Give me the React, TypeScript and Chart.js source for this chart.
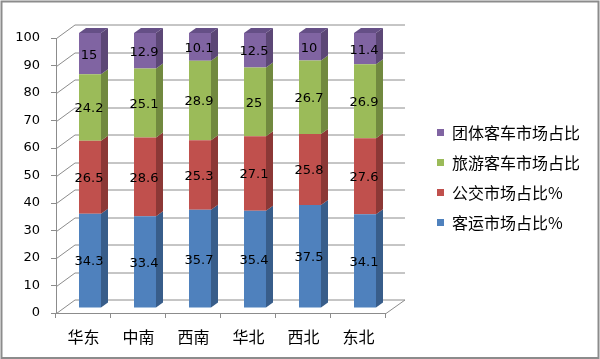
import React, { useEffect, useRef } from 'react';
import { Chart, registerables } from 'chart.js';

Chart.register(...registerables);

// ---- data ----
const categories = ['华东', '中南', '西南', '华北', '西北', '东北'];
const seriesNames = ['客运市场占比%', '公交市场占比%', '旅游客车市场占比', '团体客车市场占比'];
const keyunValues = [34.3, 33.4, 35.7, 35.4, 37.5, 34.1];
const gongjiaoValues = [26.5, 28.6, 25.3, 27.1, 25.8, 27.6];
const lvyouValues = [24.2, 25.1, 28.9, 25, 26.7, 26.9];
const tuantiValues = [15, 12.9, 10.1, 12.5, 10, 11.4];
const yMin = 0;
const yMax = 100;
const yStep = 10;

// ---- styles ----
const frontColors = ['#4F81BD', '#C0504D', '#9BBB59', '#8064A2'];
const sideColors = ['#385D8A', '#8C3836', '#71893F', '#5C4776'];
const topColor = '#654F86';
const lineColor = '#8C8C8C';

const WALL_DX = 19;
const WALL_DY = -13.5;
const BAR_OX = 6.5;
const BAR_OY = -5;
const BAR_DX = 7;
const BAR_DY = -5;

const threeD = {
  id: 'threeD',
  beforeDraw(chart: any) {
    const { ctx, chartArea: ca, scales } = chart;
    const y = scales.y;
    ctx.save();
    ctx.fillStyle = '#ffffff';
    ctx.fillRect(0, 0, chart.width, chart.height);
    ctx.strokeStyle = lineColor;
    ctx.lineWidth = 2;
    ctx.strokeRect(1.5, 1.5, chart.width - 3, chart.height - 2.5);
    ctx.lineWidth = 1;
    ctx.beginPath();
    y.ticks.forEach((t: any) => {
      const py = Math.round(y.getPixelForValue(t.value)) + 0.5;
      ctx.moveTo(ca.left + 0.5, py);
      ctx.lineTo(ca.left + WALL_DX, py + WALL_DY);
      ctx.lineTo(ca.right + WALL_DX, py + WALL_DY);
    });
    const by = Math.round(y.getPixelForValue(yMin)) + 0.5;
    ctx.moveTo(ca.right, by);
    ctx.lineTo(ca.right + WALL_DX, by + WALL_DY);
    ctx.stroke();
    ctx.restore();
  },
  beforeDatasetsDraw(chart: any) {
    chart.ctx.save();
    chart.ctx.translate(BAR_OX, BAR_OY);
  },
  afterDatasetsDraw(chart: any) {
    const ctx = chart.ctx;
    const n = chart.data.datasets.length;
    for (let i = 0; i < n; i++) {
      const meta = chart.getDatasetMeta(i);
      meta.data.forEach((el: any) => {
        const p = el.getProps(['x', 'y', 'base', 'width'], true);
        const left = p.x - p.width / 2;
        const right = p.x + p.width / 2;
        const top = Math.min(p.y, p.base);
        const bottom = Math.max(p.y, p.base);
        ctx.fillStyle = sideColors[i];
        ctx.beginPath();
        ctx.moveTo(right, top);
        ctx.lineTo(right + BAR_DX, top + BAR_DY);
        ctx.lineTo(right + BAR_DX, bottom + BAR_DY);
        ctx.lineTo(right, bottom);
        ctx.closePath();
        ctx.fill();
        if (i === n - 1) {
          ctx.fillStyle = topColor;
          ctx.beginPath();
          ctx.moveTo(left, top);
          ctx.lineTo(left + BAR_DX, top + BAR_DY);
          ctx.lineTo(right + BAR_DX, top + BAR_DY);
          ctx.lineTo(right, top);
          ctx.closePath();
          ctx.fill();
        }
      });
    }
    // data labels
    ctx.fillStyle = '#000000';
    ctx.font = '13px "DejaVu Sans"';
    ctx.textAlign = 'center';
    ctx.textBaseline = 'middle';
    for (let i = 0; i < n; i++) {
      const meta = chart.getDatasetMeta(i);
      const values = chart.data.datasets[i].data;
      meta.data.forEach((el: any, j: number) => {
        const p = el.getProps(['x', 'y', 'base'], true);
        ctx.fillText(String(values[j]), p.x - 1, (p.y + p.base) / 2 + 1.5);
      });
    }
    ctx.restore();
  },
};

export default function App() {
  const ref = useRef<HTMLCanvasElement | null>(null);
  useEffect(() => {
    if (!ref.current) return;
    const seriesValues = [keyunValues, gongjiaoValues, lvyouValues, tuantiValues];
    const chart = new Chart(ref.current, {
      type: 'bar',
      data: {
        labels: categories,
        datasets: seriesNames.map((name, i) => ({
          label: name,
          data: seriesValues[i],
          backgroundColor: frontColors[i],
          borderWidth: 0,
          barPercentage: 0.8,
          categoryPercentage: 0.5,
          xAxisID: 'x',
          yAxisID: 'y',
        })),
      },
      options: {
        responsive: false,
        animation: false,
        devicePixelRatio: 1,
        layout: { padding: { left: 0, right: 10, top: 0, bottom: 4 } },
        plugins: {
          legend: {
            position: 'right',
            reverse: true,
            maxWidth: 220,
            labels: {
              boxWidth: 7,
              boxHeight: 7,
              padding: 14,
              color: '#000000',
              font: { family: '"Noto Sans CJK SC"', size: 16 },
            },
          },
          tooltip: { enabled: false },
        },
        scales: {
          x: {
            stacked: true,
            position: 'bottom',
            grid: { drawOnChartArea: false, drawTicks: true, tickLength: 5, color: lineColor, offset: true },
            border: { display: true, color: lineColor },
            ticks: { color: '#000000', padding: 9, font: { family: '"Noto Sans CJK SC"', size: 16 } },
            afterFit: (s: any) => { s.height = 42; },
          },
          y: {
            stacked: true,
            position: 'left',
            min: yMin,
            max: yMax,
            ticks: { stepSize: yStep, color: '#000000', padding: 11, font: { family: '"DejaVu Sans"', size: 13 } },
            grid: { drawOnChartArea: false, drawTicks: true, tickLength: 5, color: lineColor },
            border: { display: true, color: lineColor },
            afterFit: (s: any) => { s.width = 56; },
          },
          padTop: {
            type: 'linear',
            position: 'top',
            display: true,
            grid: { display: false },
            ticks: { display: false },
            border: { display: false },
            afterFit: (s: any) => { s.height = 38; },
          },
          padRight: {
            type: 'linear',
            position: 'right',
            display: true,
            grid: { display: false },
            ticks: { display: false },
            border: { display: false },
            afterFit: (s: any) => { s.width = 37; },
          },
        },
      } as any,
      plugins: [threeD],
    });
    return () => chart.destroy();
  }, []);
  return (
    <div style={{ position: 'absolute', left: 0, top: 0, width: 600, height: 359 }}>
      <canvas ref={ref} width={600} height={359} />
    </div>
  );
}
